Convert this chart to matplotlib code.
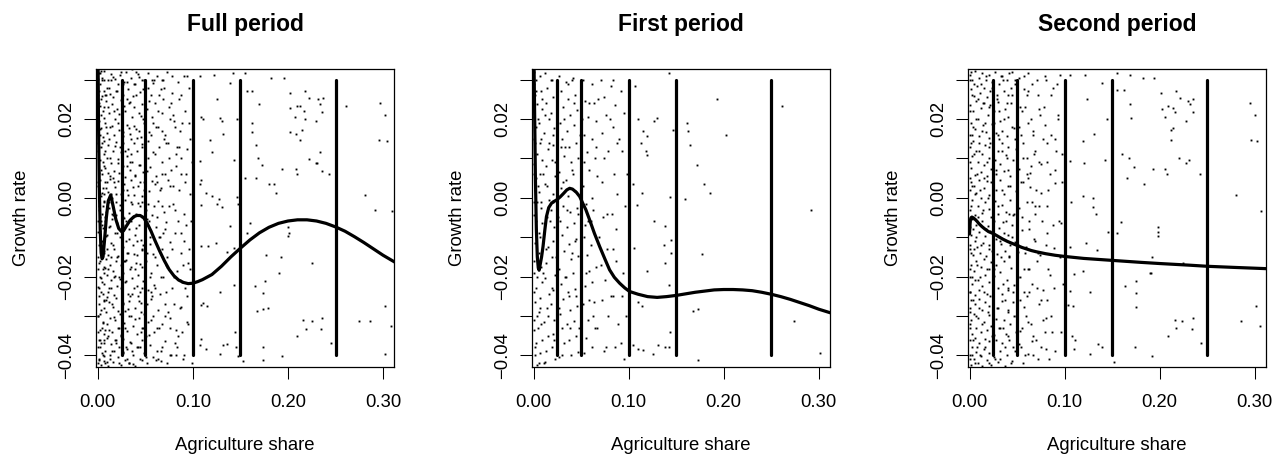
import matplotlib
matplotlib.use("Agg")
import matplotlib.pyplot as plt
import numpy as np

plt.rcParams['font.family'] = ['Liberation Sans', 'DejaVu Sans']

# units: x in 0.001 (share), y in 0.0001 (growth rate)
X_UNIT = 1e-3
Y_UNIT = 1e-4

titles = ["Full period", "First period", "Second period"]
cut_points = [0.025, 0.05, 0.10, 0.15, 0.25]

# ---- Full period ----
full_sparse = [
    (107,309),(122,313),(142,317),(155,317),(139,292),(182,305),(196,305),(157,271),(162,271),(125,250),
    (170,237),(202,267),(218,271),(222,254),(232,250),(237,254),(234,237),(202,229),(209,233),(213,233),
    (217,220),(207,205),(218,199),(229,195),(236,218),(261,233),(297,241),(302,211),(296,146),(304,144),
    (109,205),(111,199),(129,203),(131,195),(146,199),(162,191),(132,163),(162,167),(118,146),(120,115),
    (166,133),(168,102),(173,83),(143,95),(107,94),(202,167),(208,163),(213,146),(215,171),(194,74),
    (208,74),(209,60),(222,98),(229,89),(231,89),(234,115),(236,68),(243,60),(155,51),(166,51),
    (180,35),(185,35),(187,11),(108,45),(107,35),(114,11),(120,5),(127,-2),(125,-16),(109,-19),
    (131,-23),(146,3),(147,-16),(281,7),(292,-30),(309,-33),(160,-63),(200,-75),(200,-96),(201,-89),
    (157,-90),(139,-72),(143,-128),(136,-137),(124,-116),(116,-122),(108,-122),
    (177,-145),(193,-151),(225,-166),(191,-192),(176,-211),(165,-225),(143,-221),(128,-239),(111,-268),
    (115,-274),(109,-272),(174,-241),(167,-287),(174,-282),(179,-279),(216,-310),(225,-314),(219,-332),
    (236,-305),(235,-332),(209,-350),(245,-368),(275,-314),(286,-312),(302,-276),(308,-325),(302,-396),
    (194,-403),(174,-380),(174,-412),(144,-340),(145,-378),(147,-401),(153,-415),(136,-372),(132,-374),
    (128,-397),(114,-385),(107,-374),(109,-359),
]
full_dense = [
    (1,318),(2,290),(4,305),(6,272),(7,321),(9,260),(11,298),(12,280),(14,315),(16,255),(18,302),(19,270),
    (21,288),(23,312),(26,262),(28,295),(30,320),(32,276),(35,305),(37,258),(39,290),(42,315),(44,268),
    (47,300),(50,282),(53,318),(56,260),(58,292),(62,310),(66,275),(69,300),(73,320),(78,265),(84,295),
    (91,310),(96,280),
    (1,240),(2,175),(3,210),(5,155),(6,230),(8,190),(9,245),(10,165),(12,215),(13,180),(15,238),(17,160),
    (18,200),(20,225),(22,172),(24,248),(25,195),(27,158),(29,220),(31,185),(33,240),(34,162),(36,205),
    (38,230),(40,175),(43,215),(45,155),(47,238),(49,190),(52,225),(54,168),(57,205),(60,240),(63,180),
    (67,215),(71,160),(75,230),(80,195),(86,170),(92,220),
    (0,140),(2,95),(3,128),(4,60),(6,110),(7,145),(8,75),(10,100),(11,135),(13,55),(14,88),(16,120),
    (17,68),(19,142),(21,98),(22,62),(24,115),(26,80),(27,138),(29,52),(31,105),(32,125),(34,70),(36,92),
    (38,140),(39,58),(41,118),(43,84),(46,130),(48,66),(50,102),(53,145),(55,78),(58,115),(61,55),
    (64,128),(68,90),(72,140),(77,70),(82,110),(88,60),(94,125),
    (0,30),(1,-20),(2,45),(3,5),(4,-40),(5,25),(7,-10),(8,40),(9,-35),(11,15),(12,-25),(13,48),(15,0),
    (16,-45),(18,28),(19,-12),(21,42),(23,-30),(24,10),(26,-48),(28,35),(29,-5),(31,20),(33,-38),(35,45),
    (36,-15),(38,8),(40,-42),(42,30),(44,-22),(46,5),(49,40),(51,-30),(54,18),(57,-45),(60,35),(63,-8),
    (66,25),(70,-35),(74,45),(79,-15),(85,20),(91,-40),(97,10),
    (0,-60),(1,-120),(2,-85),(3,-140),(4,-70),(6,-105),(7,-135),(8,-58),(10,-95),(11,-145),(12,-75),
    (14,-115),(15,-55),(17,-130),(18,-90),(20,-65),(21,-148),(23,-100),(25,-72),(26,-125),(28,-52),
    (30,-110),(31,-140),(33,-80),(35,-60),(37,-120),(39,-95),(41,-145),(43,-68),(45,-108),(47,-132),
    (50,-85),(52,-55),(55,-118),(58,-142),(61,-75),(64,-100),(68,-130),(72,-62),(76,-112),(81,-90),
    (87,-140),(93,-70),
    (0,-180),(1,-230),(2,-160),(3,-205),(5,-245),(6,-175),(7,-220),(9,-155),(10,-195),(11,-240),(13,-170),
    (14,-210),(16,-185),(17,-248),(19,-160),(20,-225),(22,-200),(24,-170),(25,-238),(27,-190),(29,-215),
    (30,-158),(32,-245),(34,-180),(36,-205),(38,-230),(40,-165),(42,-195),(44,-240),(46,-175),(48,-212),
    (51,-160),(53,-235),(56,-190),(59,-222),(62,-170),(65,-245),(69,-200),(73,-175),(78,-230),(83,-185),
    (89,-215),(95,-165),
    (0,-300),(1,-270),(2,-335),(3,-285),(5,-315),(6,-260),(7,-345),(9,-290),(10,-320),(12,-265),(13,-305),
    (15,-340),(16,-278),(18,-310),(19,-255),(21,-330),(23,-295),(24,-348),(26,-270),(28,-318),(29,-288),
    (31,-338),(33,-262),(35,-300),(37,-325),(39,-280),(41,-345),(43,-305),(45,-268),(47,-330),(50,-290),
    (53,-315),(56,-258),(59,-340),(63,-285),(67,-320),(71,-270),(76,-305),(82,-335),(88,-278),(94,-315),
    (0,-380),(1,-410),(2,-360),(3,-425),(4,-395),(6,-370),(7,-415),(8,-388),(10,-355),(11,-428),(13,-400),
    (14,-372),(16,-418),(17,-390),(19,-362),(21,-405),(22,-378),(24,-425),(26,-395),(27,-358),(29,-412),
    (31,-385),(33,-420),(35,-368),(37,-400),(39,-428),(41,-378),(44,-410),(46,-360),(49,-395),(52,-420),
    (55,-375),(58,-405),(62,-388),(66,-415),(71,-365),(76,-400),(83,-380),(90,-410),
]
full_dense_more = [
    (0,262),(0,118),(0,-88),(0,-226),(0,-342),(1,64),(1,-166),(1,196),(1,-412),(2,-48),(2,232),(2,-296),
    (3,322),(3,-112),(3,-368),(3,176),(4,12),(4,258),(4,-214),(5,-318),(5,92),(5,-76),(6,-402),(6,298),
    (6,-8),(7,202),(7,-262),(8,-178),(8,118),(8,-336),(9,24),(9,-96),(10,278),(10,-252),(10,-418),(11,62),
    (11,-182),(12,148),(12,-336),(13,-72),(13,264),(14,-228),(14,10),(15,182),(15,-390),(16,-120),(16,306),
    (17,-302),(17,40),(18,-198),(18,132),(19,-44),(19,-368),(20,270),(20,-150),(21,88),(21,-288),(22,-420),
    (22,212),(23,-18),(23,-206),(24,320),(24,-350),(25,54),(25,-128),(26,166),(26,-268),(27,-392),(27,20),
    (28,232),(28,-160),(29,-330),(29,120),(30,-60),(30,-212),(31,294),(31,-410),(32,6),(32,-282),(33,178),
    (33,-104),(34,-366),(34,244),(35,-176),(35,112),(36,-244),(36,326),(37,28),(37,-422),(38,-142),
    (38,182),(39,-308),(39,56),(40,262),(40,-76),(41,-224),(41,152),(42,-380),(42,-14),(43,306),(43,-262),
    (44,84),(44,-168),(45,208),(45,-340),(46,-48),(46,-412),(47,136),(47,-228),(48,-120),(48,276),
    (49,-296),(49,20),(50,-190),(50,188),(51,-404),(52,68),(52,-270),(53,-16),(54,246),(54,-348),
    (55,-100),(56,160),(56,-240),(57,42),(58,-300),(59,300),(60,-150),(60,110),(61,-412),(62,-50),
    (63,220),(64,-330),(65,20),(66,-200),(67,170),(68,-380),(69,-90),(70,280),(71,60),(72,-240),(73,-420),
    (74,140),(75,-20),(76,-330),(77,240),(78,-130),(79,30),(80,-270),(81,180),(82,-400),(84,-60),(85,250),
    (86,-210),(88,100),(89,-340),(91,-110),(92,40),(94,-250),(96,190),(98,-60),
    (0,302),(0,180),(0,40),(0,-150),(0,-300),(0,-420),(1,270),(1,130),(1,-30),(1,-250),(1,-360),(2,316),
    (2,160),(2,10),(2,-200),(2,-380),(3,250),(3,70),(3,-60),(3,-240),(4,300),(4,140),(4,-110),(4,-330),
    (5,220),(5,-20),(5,-180),(5,-400),(6,80),(6,-140),(6,-280),(7,10),(7,-190),(7,-360),(8,260),(8,-50),
    (8,-420),(9,180),(9,-260),(10,40),(10,-130),(11,230),(11,-350),(12,-10),(12,-230),(13,100),(13,-410),
    (14,300),(14,-150),(15,-40),(15,-270),(16,50),(17,220),(17,-200),(18,-360),(19,10),(20,-90),(21,190),
    (22,-330),(23,130),(24,-230),(26,-70),(27,290),(29,-160),(31,80),(33,-420),(35,-10),
    (31,250),(33,-300),(35,150),(37,-50),(40,320),(42,-250),(44,40),(46,-130),(48,200),(51,-350),(53,100),
    (55,-200),(57,300),(59,-20),(61,180),(63,-410),(65,-100),(67,60),(69,250),(71,-300),(73,-150),(75,100),
    (77,-400),(79,210),(81,-30),(83,130),(86,-280),(88,260),(90,-170),(93,60),(95,-320),(97,150),(99,-420),
    (32,-140),(34,90),(36,-390),(38,290),(41,-110),(43,170),(45,-290),(47,-10),(49,300),(52,-140),(54,-60),
    (56,-310),(58,190),(60,-230),(62,40),(64,260),(66,-390),(68,-20),(70,150),(72,-170),(74,-290),(76,30),
    (78,310),(80,-200),(82,80),(84,-350),(87,-90),(89,190),(92,-230),(94,310),(96,-130),(99,90),
    (30,-380),(34,-250),(39,-180),(44,-380),(48,-330),(53,280),(57,-250),(62,-330),(67,300),(71,-80),
    (76,200),(81,-370),(85,130),(91,-400),(97,-180),
]
full_curve_x = [0, 0.7, 1.5, 2.5, 3.5, 4.5, 5.5, 7, 9, 11, 13.6, 16, 19, 22, 25, 27, 30, 34, 38, 41, 44.5,
                48, 52, 56, 60, 65, 70, 75, 80, 85, 90, 95, 100, 105, 110, 120, 130, 140, 150, 160,
                170, 180, 190, 200, 210, 220, 230, 240, 250, 260, 270, 280, 290, 300, 312]
full_curve_y = [450, 200, 36, -80, -140, -155, -150, -110, -50, -8, 7, -20, -55, -78, -86, -84, -72, -57,
                -48, -45, -45, -50, -65, -85, -108, -135, -160, -182, -198, -209, -215, -218, -217, -213,
                -208, -195, -174, -150, -128, -107, -89, -75, -65, -59, -56, -56, -59, -65, -74, -85, -99,
                -114, -130, -146, -163]

# ---- First period ----
first_sparse = [
    (107,284),(142,317),(110,199),(127,195),(130,203),(115,169),(119,156),(118,119),(119,108),(113,139),
    (147,171),(161,190),(162,169),(165,133),(172,83),(179,36),(186,13),(193,250),(202,160),(261,233),
    (292,-30),(105,35),(114,11),(109,-19),(127,-58),(138,-72),(144,3),(159,-3),(145,-107),(137,-120),
    (145,-141),(138,-166),(177,-143),(119,-187),(106,-128),
    (142,-221),(110,-264),(114,-276),(168,-287),(173,-282),(274,-314),(144,-340),(150,-334),(105,-375),
    (110,-385),(115,-386),(126,-397),(131,-374),(138,-378),(142,-379),(173,-412),(301,-395),
]
first_dense = [
    (1,320),(3,300),(2,262),(4,238),(1,205),(3,180),(2,140),(4,110),(1,85),(3,50),(2,20),(4,-10),(1,-45),
    (3,-80),(2,-115),(4,-150),(1,-190),(3,-230),(2,-265),(4,-300),(1,-335),(3,-370),(2,-400),(4,-425),
    (7,310),(8,270),(9,225),(6,190),(8,150),(9,95),(7,60),(6,15),(8,-25),(9,-65),(7,-100),(6,-140),
    (8,-175),(9,-215),(7,-255),(6,-290),(8,-320),(9,-360),(7,-395),(6,-420),
    (12,318),(14,280),(13,240),(16,200),(11,165),(15,125),(13,80),(12,35),(16,-5),(14,-50),(11,-90),
    (15,-125),(13,-165),(12,-205),(16,-245),(14,-280),(11,-315),(15,-350),(13,-390),(12,-418),
    (19,300),(21,255),(18,215),(22,178),(20,135),(19,95),(23,55),(21,10),(18,-30),(22,-75),(20,-110),
    (19,-150),(23,-195),(21,-235),(18,-270),(22,-310),(20,-345),(19,-380),(23,-410),
    (27,310),(29,270),(31,230),(28,190),(30,150),(32,105),(27,65),(29,25),(31,-20),(28,-60),(30,-95),
    (32,-135),(27,-180),(29,-220),(31,-258),(28,-295),(30,-330),(32,-370),(27,-405),
    (34,295),(36,250),(38,210),(35,170),(37,130),(39,90),(34,45),(36,5),(38,-35),(35,-75),(37,-118),
    (39,-155),(34,-200),(36,-240),(38,-285),(35,-320),(37,-360),(39,-400),
    (42,305),(44,262),(46,222),(43,185),(45,140),(47,100),(42,60),(44,18),(46,-25),(43,-65),(45,-105),
    (47,-148),(42,-190),(44,-232),(46,-275),(43,-312),(45,-352),(47,-392),
    (52,300),(54,245),(57,205),(53,160),(56,115),(58,70),(52,30),(55,-15),(57,-60),(53,-100),(56,-145),
    (58,-185),(54,-225),(52,-270),(57,-310),(55,-355),(53,-395),
    (61,290),(64,240),(66,195),(62,150),(65,100),(67,55),(63,-30),(60,-120),(66,-175),(62,-215),
    (64,-265),(67,-330),(61,-380),
    (71,300),(74,255),(76,210),(72,165),(78,120),(73,-50),(77,-130),(75,-210),(72,-260),(78,-300),(74,-390),
    (82,285),(86,235),(84,180),(88,140),(85,60),(83,-40),(87,-160),(84,-250),(89,-320),(86,-380),
    (92,270),(95,215),(93,120),(96,-20),(94,-190),(97,-300),(92,-370),
]
first_dense_more = [
    (0,290),(0,150),(0,-10),(0,-160),(0,-310),(1,60),(1,-240),(1,230),(2,-380),(2,110),(3,-60),(3,270),
    (4,-200),(5,30),(5,-330),(5,200),(6,-90),(7,140),(7,-280),(8,-10),(9,250),(10,-190),(10,60),(11,-420),
    (12,210),(13,-130),(14,30),(15,-300),(16,140),(17,-60),(18,300),(19,-230),(20,-10),(21,160),(22,-360),
    (23,90),(24,-150),(25,260),(26,-50),(27,-280),(29,130),(30,-400),(31,40),(32,200),(33,-200),(35,-30),
    (36,290),(38,-330),(40,70),(41,-140),(43,240),(45,-250),(47,-40),(49,160),(50,-360),(53,90),
    (55,-190),(58,240),(60,-60),(63,-300),(66,130),(69,-100),(72,40),(76,-380),(80,200),(84,-130),
    (88,10),(93,-250),
    (33,130),(37,-250),(41,300),(44,-110),(48,-330),(51,200),(54,-70),(58,-260),(62,0),(65,-330),
    (68,250),(71,-170),(74,100),(77,-40),(81,-250),(84,300),(87,-80),(90,150),(95,-410),(98,60),
]
first_curve_x = [0, 1, 2, 3, 4, 5, 5.9, 7, 8.5, 10, 12, 13.6, 16, 18.9, 21, 24, 28, 32, 35, 38, 41, 45,
                 48.6, 52, 55, 59, 64, 69.6, 75, 80, 85, 90.6, 96, 101, 110, 120, 130, 140, 150, 160,
                 170, 180, 190, 200, 210, 220, 230, 240, 250, 260, 270, 280, 290, 300, 312]
first_curve_y = [450, 250, 50, -80, -150, -178, -184, -170, -150, -124, -80, -48, -25, -14, -10, -6, 2,
                 12, 20, 24, 22, 14, 3, -15, -30, -56, -90, -124, -155, -183, -202, -217, -229, -238,
                 -245, -251, -253, -251, -248, -244, -240, -237, -234, -233, -233, -234, -236, -240,
                 -245, -251, -258, -266, -274, -283, -292]

# ---- Second period ----
second_sparse = [
    (106,313),(121,313),(155,317),(169,311),(182,305),(194,305),(139,292),(155,273),(162,273),(124,250),
    (201,267),(217,271),(221,254),(230,247),(235,251),(232,237),(235,218),(169,237),(170,203),(202,226),
    (209,233),(214,229),(206,205),(216,218),(228,195),(212,171),(214,176),(212,146),(295,241),(300,211),
    (296,146),(302,144),(145,199),(131,163),(119,144),(106,93),(120,89),(142,95),(160,112),(168,102),
    (173,78),(166,51),(184,36),(193,74),(206,74),(208,60),(220,100),(228,89),(231,95),(242,60),
    (119,5),(130,0),(130,-23),(133,-40),(107,-12),(280,7),(307,-33),(159,-62),(155,-89),(123,-116),
    (134,-133),(146,-86),(106,-124),(198,-73),(198,-86),(198,-96),(192,-151),(190,-190),
    (224,-166),(110,-193),(119,-187),(191,-192),(175,-211),(175,-241),(163,-225),(127,-240),(106,-238),
    (104,-272),(109,-276),(175,-278),(216,-310),(223,-314),(217,-331),(235,-306),(234,-332),(209,-351),
    (243,-368),(285,-312),(301,-276),(306,-325),(192,-403),(174,-380),(135,-371),(139,-378),(127,-396),
    (108,-352),(111,-361),(110,-385),(152,-416),
]
second_dense = [
    (1,312),(2,275),(3,300),(5,258),(6,322),(8,285),(10,305),(11,265),(13,318),(15,280),(17,300),(18,255),
    (20,312),(22,272),(24,295),(27,320),(29,262),(31,290),(34,310),(36,270),(39,298),(42,318),(45,262),
    (48,290),(52,305),(57,275),(61,318),(66,288),(72,262),(80,300),(88,278),(95,312),
    (0,235),(2,190),(3,160),(4,220),(6,175),(7,245),(9,200),(10,158),(12,228),(14,185),(15,240),(17,168),
    (19,210),(21,152),(22,235),(24,188),(26,220),(28,165),(30,242),(32,195),(34,170),(37,225),(39,158),
    (41,205),(44,240),(47,178),(50,215),(54,160),(58,230),(62,190),(67,170),(73,225),(79,185),(86,160),
    (93,210),
    (1,130),(2,75),(3,105),(4,145),(6,58),(7,118),(9,90),(10,140),(12,65),(13,110),(15,82),(16,135),
    (18,55),(20,100),(21,128),(23,72),(25,145),(27,95),(28,60),(30,120),(32,85),(34,140),(36,68),
    (38,108),(41,130),(43,55),(46,95),(49,125),(52,72),(56,140),(60,100),(64,62),(69,120),(75,85),
    (82,140),(90,70),(97,110),
    (0,20),(1,-30),(2,40),(3,-5),(5,30),(6,-45),(7,12),(9,-20),(10,45),(12,0),(13,-38),(15,25),(16,-12),
    (18,42),(20,-28),(21,8),(23,-48),(25,35),(27,-8),(28,20),(30,-40),(32,45),(34,-18),(36,10),(38,-35),
    (41,30),(43,-5),(46,-45),(49,18),(52,-25),(56,40),(60,-10),(64,28),(69,-42),(75,12),(82,-22),(90,38),
    (0,-75),(1,-130),(2,-95),(3,-55),(4,-145),(6,-110),(7,-68),(8,-125),(10,-88),(11,-140),(13,-60),
    (14,-115),(16,-98),(17,-148),(19,-72),(21,-120),(22,-85),(24,-135),(26,-58),(28,-105),(29,-142),
    (31,-78),(33,-118),(35,-62),(37,-135),(40,-95),(42,-148),(45,-70),(48,-112),(51,-138),(55,-82),
    (59,-125),(63,-60),(68,-105),(74,-145),(81,-90),(89,-128),(96,-65),
    (0,-200),(1,-240),(2,-170),(3,-220),(5,-185),(6,-248),(7,-160),(9,-210),(10,-235),(12,-175),(13,-225),
    (15,-155),(16,-195),(18,-245),(20,-180),(21,-215),(23,-162),(25,-238),(26,-198),(28,-172),(30,-228),
    (32,-188),(34,-245),(36,-160),(39,-210),(41,-235),(44,-178),(47,-222),(50,-165),(53,-200),(57,-240),
    (61,-182),(66,-218),(71,-160),(77,-235),(85,-195),
    (0,-280),(1,-320),(2,-260),(3,-345),(5,-295),(6,-270),(7,-330),(9,-305),(10,-258),(12,-340),(13,-285),
    (15,-315),(16,-265),(18,-335),(20,-298),(21,-275),(23,-325),(25,-255),(26,-348),(28,-308),(30,-280),
    (32,-330),(34,-262),(36,-310),(38,-345),(41,-285),(43,-320),(46,-265),(49,-300),(53,-338),(57,-278),
    (62,-315),(67,-350),(73,-270),(80,-305),(87,-340),
    (0,-360),(1,-400),(2,-425),(3,-378),(5,-410),(6,-355),(7,-392),(9,-420),(10,-368),(12,-402),(13,-428),
    (15,-385),(16,-358),(18,-412),(20,-395),(21,-365),(23,-425),(25,-382),(26,-405),(28,-360),(30,-418),
    (32,-390),(34,-370),(37,-428),(39,-400),(42,-362),(45,-415),(48,-388),(52,-372),(56,-420),(61,-398),
    (66,-365),(72,-410),(80,-385),
]
second_dense_more = [
    (0,300),(0,160),(0,50),(0,-120),(0,-240),(0,-330),(0,-410),(1,220),(1,90),(1,-60),(1,-180),(1,-290),
    (2,320),(2,140),(2,-20),(2,-140),(2,-310),(3,260),(3,30),(3,-200),(3,-400),(4,180),(4,-80),(4,-260),
    (4,-360),(5,110),(5,-130),(5,290),(6,10),(6,-210),(6,-420),(7,200),(7,-100),(7,-300),(8,60),(8,-170),
    (8,-380),(9,250),(9,-50),(10,-280),(10,120),(11,20),(11,-200),(11,-400),(12,290),(12,-120),(13,170),
    (13,-320),(14,-30),(14,240),(15,-240),(15,50),(16,-380),(16,190),(17,-80),(17,310),(18,-180),(18,90),
    (19,-290),(19,0),(20,230),(20,-420),(21,-130),(22,140),(22,-250),(23,40),(24,-350),(24,280),(25,-60),
    (26,190),(26,-180),(27,-410),(28,70),(29,-280),(29,250),(30,-20),(31,150),(31,-330),(32,-110),
    (33,310),(34,20),(35,-220),(36,200),(37,-380),(38,-60),(39,100),(40,-290),(41,260),(42,-150),(43,30),
    (44,-420),(45,180),(46,-240),(47,-40),(48,300),(49,-340),(50,120),(51,-120),(53,-260),(54,40),
    (55,220),(57,-180),(58,-400),(60,60),(62,270),(63,-80),(65,-320),(67,160),(69,-20),(71,-230),
    (73,90),(75,-380),(78,230),(80,-120),(83,20),(86,-300),(90,150),(94,-60),(98,-220),
    (31,220),(33,-150),(35,300),(37,-260),(40,70),(42,-40),(44,280),(46,-380),(48,150),(51,-200),(53,230),
    (55,-50),(57,310),(59,-300),(61,50),(63,-180),(65,200),(67,-400),(69,-110),(71,300),(73,-20),(75,-260),
    (77,150),(79,-340),(81,90),(83,-180),(86,260),(88,-70),(90,-390),(93,200),(95,-150),(97,40),
    (32,-410),(34,120),(36,-90),(39,240),(41,-350),(43,-120),(45,320),(47,-300),(50,-30),(52,180),
    (54,-380),(56,100),(58,-140),(60,260),(63,-240),(66,-10),(68,110),(70,-360),(72,-140),(74,210),
    (76,-60),(79,310),(82,-260),(85,60),(89,-230),(92,290),(96,-340),
    (30,160),(35,-330),(40,-230),(45,-100),(50,300),(55,-330),(60,-250),(65,80),(70,20),(77,-310),
    (84,-410),(91,120),
]
second_curve_x = [0, 0.4, 0.8, 1.5, 2.5, 4, 6, 8, 10, 13, 16, 20, 25, 30, 35, 40, 45, 50, 55, 60, 65,
                  70, 80, 90, 100, 120, 150, 180, 200, 230, 250, 280, 312]
second_curve_y = [-92, -75, -58, -51, -49, -51, -55, -60, -66, -73, -79, -86, -91, -98, -105, -111, -116,
                  -121, -126, -130, -134, -137, -142, -146, -149, -154, -159, -164, -167, -171, -174,
                  -177, -180]

panels = [
    (full_sparse + full_dense + full_dense_more, full_curve_x, full_curve_y),
    (first_sparse + first_dense + first_dense_more, first_curve_x, first_curve_y),
    (second_sparse + second_dense + second_dense_more, second_curve_x, second_curve_y),
]

W, H = 1288, 455
fig = plt.figure(figsize=(W / 100, H / 100), dpi=100)
lefts = [96, 531.7, 967.7]
ax_w, ax_top, ax_bot = 298.3, 69, 366.7

for i, (pts, cx, cy) in enumerate(panels):
    ax = fig.add_axes([lefts[i] / W, (H - ax_bot) / H, ax_w / W, (ax_bot - ax_top) / H])
    px = np.array([p[0] for p in pts]) * X_UNIT
    py = np.array([p[1] for p in pts]) * Y_UNIT
    ax.plot(px, py, ls='none', marker='s', ms=1.35, mew=0, color='black')
    for c in cut_points:
        ax.plot([c, c], [-0.04, 0.03], color='black', lw=2.3, solid_capstyle='round')
    ax.plot(np.array(cx) * X_UNIT, np.array(cy) * Y_UNIT, color='black', lw=2.3,
            solid_capstyle='round', solid_joinstyle='round')

    ax.set_xlim(-0.0019, 0.3118)
    ax.set_ylim(-0.0429, 0.0327)
    ax.set_xticks([0, 0.1, 0.2, 0.3])
    ax.set_xticklabels(["0.00", "0.10", "0.20", "0.30"])
    yt = [-0.04, -0.03, -0.02, -0.01, 0.0, 0.01, 0.02, 0.03]
    ax.set_yticks(yt)
    ax.set_yticklabels(["\u22120.04", "", "\u22120.02", "", "0.00", "", "0.02", ""],
                       rotation=90, va='center')
    ax.tick_params(axis='both', direction='out', length=8.4, width=0.75, labelsize=13.3)
    ax.tick_params(axis='x', pad=11.5)
    ax.tick_params(axis='y', pad=6.3)
    for s in ax.spines.values():
        s.set_linewidth(0.9)

    ax.set_title(titles[i], fontsize=16.5, fontweight='bold', pad=27)
    ax.set_xlabel("Agriculture share", fontsize=13.3)
    ax.xaxis.set_label_coords(0.5, -0.28)
    ax.xaxis.label.set_va('baseline')
    ax.set_ylabel("Growth rate", fontsize=13.3)
    ax.yaxis.set_label_coords((21.7 - 96) / ax_w, 0.5)
    ax.yaxis.label.set_va('center')

fig.savefig("out.png", dpi=100)
